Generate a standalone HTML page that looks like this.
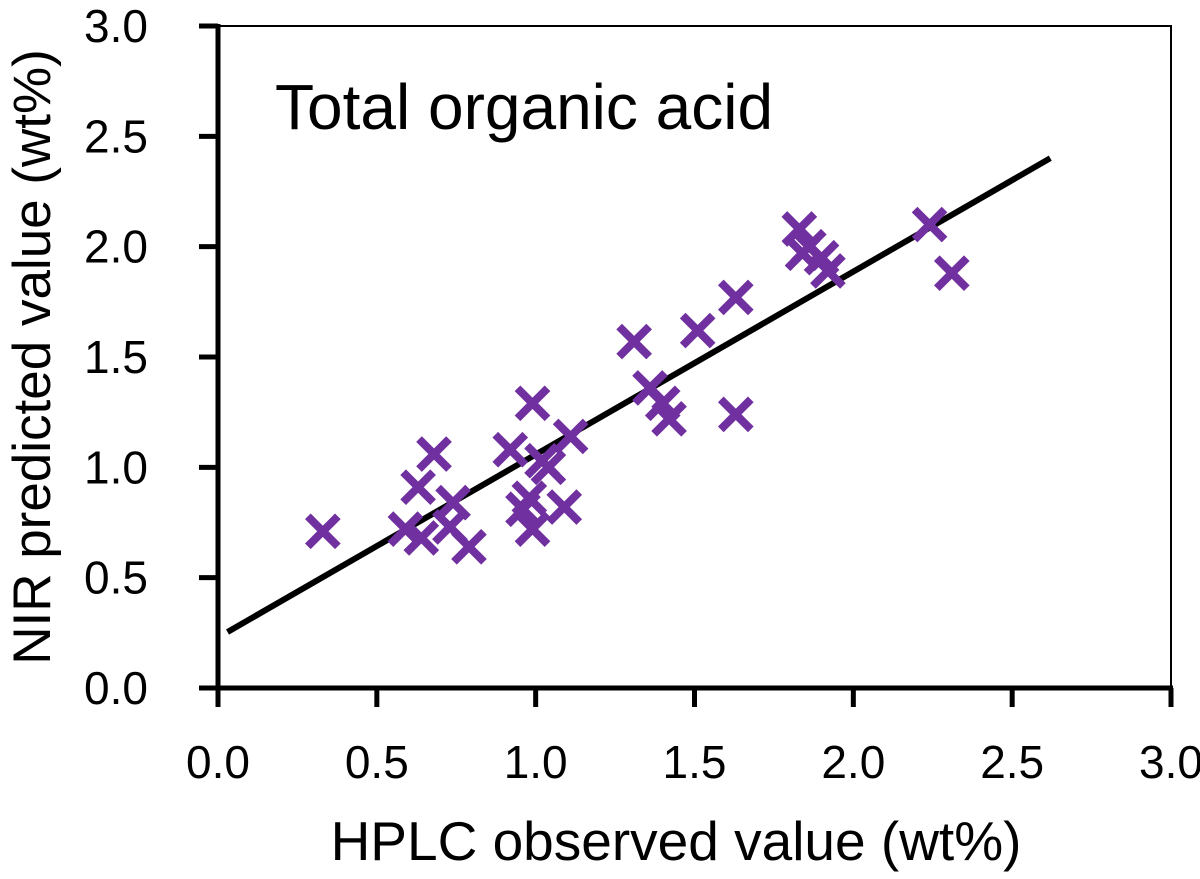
<!DOCTYPE html>
<html><head><meta charset="utf-8"><style>
body{margin:0;background:#fff;}
svg text{font-family:"Liberation Sans",sans-serif;fill:#000;}
</style></head><body>
<svg width="1200" height="874" viewBox="0 0 1200 874" xmlns="http://www.w3.org/2000/svg">
<g id="plot"></g>
</svg>
<script>
const xObs=[0.33,0.68,0.63,0.74,0.59,0.64,0.73,0.79,0.99,0.92,1.02,1.04,1.11,0.98,0.99,1.09,0.96,1.31,1.51,1.63,1.36,1.40,1.42,1.63,1.83,1.84,1.90,1.92,1.86,2.24,2.31];
const yPred=[0.71,1.06,0.91,0.84,0.72,0.68,0.73,0.64,1.29,1.08,1.03,1.00,1.14,0.86,0.72,0.82,0.81,1.57,1.62,1.77,1.36,1.29,1.22,1.24,2.08,1.97,1.95,1.89,2.00,2.10,1.88];
const ticks=[0,0.5,1,1.5,2,2.5,3];
const tickLabels=["0.0","0.5","1.0","1.5","2.0","2.5","3.0"];
const fitX=[0.03,2.62];
const slope=0.829, intercept=0.229;
const X0=218,X1=1171,Y0=688,Y1=26;
const sx=v=>X0+(X1-X0)*v/3, sy=v=>Y0-(Y0-Y1)*v/3;
const NS="http://www.w3.org/2000/svg", g=document.getElementById('plot');
function mk(t,a,txt){const e=document.createElementNS(NS,t);for(const k in a)e.setAttribute(k,a[k]);if(txt!==undefined)e.textContent=txt;g.appendChild(e);return e;}
let e;
e=mk('rect',{x:X0,y:Y1,width:X1-X0,height:Y0-Y1,fill:'none',stroke:'#000','stroke-width':2});


e=mk('line',{x1:X0,y1:Y0,x2:X1+2,y2:Y0,stroke:'#000','stroke-width':5});


e=mk('line',{x1:X0,y1:Y1-2,x2:X0,y2:Y0+2,stroke:'#000','stroke-width':5});


ticks.forEach((t,i)=>{
 e=mk('line',{x1:sx(t),y1:Y0,x2:sx(t),y2:Y0+19,stroke:'#000','stroke-width':5});
 
 
 e=mk('text',{x:sx(t),y:Y0+90,'text-anchor':'middle','font-size':46},tickLabels[i]);
 
 
 e=mk('line',{x1:X0-19,y1:sy(t),x2:X0,y2:sy(t),stroke:'#000','stroke-width':5});
 
 
 e=mk('text',{x:X0-70,y:sy(t)+16,'text-anchor':'end','font-size':46},tickLabels[i]);
 
 
});
e=mk('line',{x1:sx(fitX[0]),y1:sy(slope*fitX[0]+intercept),x2:sx(fitX[1]),y2:sy(slope*fitX[1]+intercept),stroke:'#000','stroke-width':6});


xObs.forEach((v,i)=>{
 const cx=sx(v),cy=sy(yPred[i]),d=15;
 e=mk('path',{d:`M${cx-d},${cy-d}L${cx+d},${cy+d}M${cx-d},${cy+d}L${cx+d},${cy-d}`,stroke:'#7030a0','stroke-width':8,fill:'none'});
 
 
});
e=mk('text',{x:275,y:129,'font-size':64},'Total organic acid');


e=mk('text',{x:676,y:860,'text-anchor':'middle','font-size':55},'HPLC observed value (wt%)');


e=mk('text',{x:0,y:0,'text-anchor':'middle','font-size':53,transform:'translate(50,357) rotate(-90)'},'NIR predicted value (wt%)');


</script>
</body></html>
